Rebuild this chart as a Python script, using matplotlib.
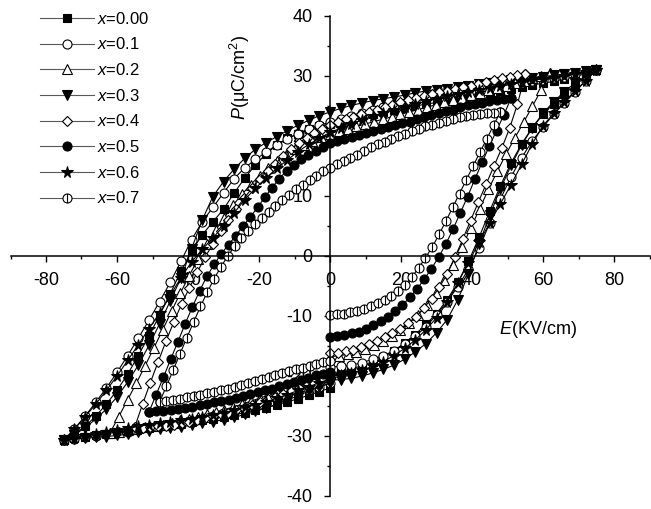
import numpy as np
import matplotlib
matplotlib.use("Agg")
import matplotlib.pyplot as plt
from matplotlib.path import Path
from matplotlib.ticker import MultipleLocator

plt.rcParams['font.family'] = ['Liberation Sans', 'DejaVu Sans']
plt.rcParams['mathtext.fontset'] = 'custom'
plt.rcParams['mathtext.rm'] = 'Liberation Sans'
plt.rcParams['mathtext.it'] = 'Liberation Sans:italic'
plt.rcParams['axes.unicode_minus'] = False

# P-E loops: each run goes 0 -> +Emax (up), +Emax -> -Emax (down), -Emax -> 0 (back)
labels = ['0.00', '0.1', '0.2', '0.3', '0.4', '0.5', '0.6', '0.7']

emax_00 = 75
p_00_up = [-19.5, -19.3, -18.8, -18.3, -17.6, -16.8, -15.8, -14.5, -13.1, -11.4, -9.6, -7.3, -4.4,
           -0.9, 3.1, 7.5, 11.7, 15.5, 18.7, 21.4, 23.6, 25.4, 27.0, 28.5, 29.8, 31.0]
p_00_down = [31.0, 30.4, 29.9, 29.5, 29.1, 28.8, 28.5, 28.2, 27.8, 27.5, 27.2, 26.9, 26.6,
             26.2, 25.9, 25.6, 25.3, 25.0, 24.6, 24.3, 24.0, 23.6, 23.2, 22.8, 22.4, 22.0,
             21.6, 21.1, 20.4, 19.6, 18.5, 17.0, 15.2, 13.0, 10.5, 7.8, 5.7, 3.5, 0.8,
             -2.5, -6.3, -9.9, -13.3, -16.6, -19.7, -22.4, -24.7, -26.7, -28.4, -29.7, -30.7]
p_00_back = [-30.7, -30.4, -30.1, -29.9, -29.6, -29.4, -29.2, -28.9, -28.7, -28.4, -28.2, -28.0, -27.7,
             -27.4, -27.1, -26.8, -26.5, -26.1, -25.7, -25.3, -24.8, -24.3, -23.8, -23.2, -22.6, -22.0]

emax_01 = 75
p_01_up = [-18.5, -18.4, -18.2, -17.8, -17.2, -16.6, -15.8, -14.7, -13.4, -11.8, -9.8, -7.6, -5.1,
           -2.2, 1.3, 5.5, 9.5, 13.2, 16.4, 19.2, 21.5, 23.6, 25.5, 27.3, 29.2, 31.0]
p_01_down = [31.0, 30.6, 30.3, 29.9, 29.6, 29.4, 29.2, 28.9, 28.6, 28.3, 28.0, 27.8, 27.5,
             27.1, 26.8, 26.5, 26.2, 25.9, 25.5, 25.2, 24.8, 24.4, 23.9, 23.4, 22.9, 22.3,
             21.8, 21.2, 20.4, 19.5, 18.5, 17.3, 16.1, 14.7, 12.9, 10.5, 8.1, 5.7, 2.7,
             -0.9, -4.4, -7.6, -10.7, -13.7, -16.6, -19.4, -22.0, -24.4, -26.7, -28.8, -30.7]
p_01_back = [-30.7, -30.5, -30.2, -30.0, -29.7, -29.5, -29.3, -29.0, -28.7, -28.4, -28.1, -27.8, -27.5,
             -27.1, -26.7, -26.3, -25.9, -25.4, -25.0, -24.5, -24.0, -23.4, -22.9, -22.3, -21.8, -21.2]

emax_02 = 62
p_02_up = [-16.8, -16.6, -16.4, -16.0, -15.5, -14.9, -14.2, -13.3, -12.3, -11.2, -9.8, -8.1, -6.2,
           -4.0, -1.5, 1.5, 4.7, 7.9, 11.1, 14.1, 17.0, 19.7, 22.3, 25.0, 27.7, 30.5]
p_02_down = [30.5, 30.0, 29.6, 29.2, 28.8, 28.4, 28.0, 27.6, 27.2, 26.8, 26.4, 26.0, 25.6,
             25.2, 24.8, 24.4, 24.0, 23.6, 23.2, 22.8, 22.4, 22.0, 21.6, 21.2, 20.8, 20.4,
             19.8, 19.2, 18.5, 17.8, 16.9, 15.9, 14.7, 13.4, 11.9, 10.3, 8.5, 6.4, 4.3,
             2.0, -0.5, -3.3, -6.2, -9.2, -12.3, -15.3, -18.3, -21.2, -24.0, -26.8, -29.5]
p_02_back = [-29.5, -29.3, -29.0, -28.8, -28.5, -28.3, -28.1, -27.8, -27.4, -27.1, -26.8, -26.4, -26.0,
             -25.6, -25.2, -24.7, -24.2, -23.7, -23.2, -22.7, -22.2, -21.6, -21.1, -20.6, -20.1, -19.6]

emax_03 = 75
p_03_up = [-20.7, -20.6, -20.4, -20.0, -19.5, -18.9, -18.2, -17.2, -16.0, -14.6, -12.8, -10.6, -7.3,
           -3.0, 2.0, 6.8, 11.2, 15.1, 18.5, 21.4, 23.8, 25.7, 27.4, 28.8, 30.0, 31.0]
p_03_down = [31.0, 30.8, 30.5, 30.3, 30.1, 29.9, 29.7, 29.5, 29.3, 29.0, 28.8, 28.6, 28.4,
             28.2, 27.9, 27.7, 27.5, 27.2, 26.8, 26.5, 26.2, 25.9, 25.5, 25.1, 24.6, 24.0,
             23.4, 22.6, 21.8, 20.9, 19.9, 18.9, 17.8, 16.3, 14.5, 12.4, 9.9, 6.0, 1.2,
             -3.7, -7.5, -11.3, -14.9, -18.2, -21.0, -23.5, -25.5, -27.2, -28.6, -29.8, -30.7]
p_03_back = [-30.7, -30.5, -30.4, -30.2, -30.1, -29.9, -29.7, -29.4, -29.2, -28.9, -28.7, -28.5, -28.2,
             -27.9, -27.6, -27.3, -26.9, -26.4, -25.9, -25.3, -24.7, -24.0, -23.3, -22.5, -21.8, -21.2]

emax_04 = 55
p_04_up = [-16.2, -16.1, -15.9, -15.6, -15.2, -14.7, -14.1, -13.5, -12.8, -12.1, -11.2, -10.1, -8.7,
           -7.1, -5.2, -3.0, -0.2, 2.8, 5.9, 9.0, 12.0, 15.0, 18.0, 21.3, 25.3, 30.3]
p_04_down = [30.3, 30.1, 29.9, 29.6, 29.3, 29.0, 28.7, 28.4, 28.1, 27.8, 27.5, 27.3, 27.0,
             26.6, 26.3, 26.0, 25.6, 25.2, 24.8, 24.4, 24.0, 23.6, 23.2, 22.8, 22.3, 21.8,
             21.2, 20.5, 19.7, 18.8, 17.8, 16.7, 15.4, 14.2, 12.8, 11.3, 9.6, 7.9, 6.0,
             4.1, 2.0, -0.2, -2.7, -5.3, -8.0, -11.0, -14.2, -17.6, -21.1, -24.7, -28.5]
p_04_back = [-28.5, -28.6, -28.5, -28.4, -28.3, -28.1, -27.9, -27.6, -27.3, -27.0, -26.7, -26.4, -26.1,
             -25.7, -25.3, -24.9, -24.4, -23.9, -23.5, -23.0, -22.5, -22.0, -21.5, -21.1, -20.7, -20.3]

emax_05 = 51
p_05_up = [-13.5, -13.4, -13.2, -12.9, -12.6, -12.1, -11.5, -10.9, -10.2, -9.2, -8.2, -6.9, -5.5,
           -3.9, -2.1, -0.2, 2.0, 4.5, 7.2, 9.9, 12.8, 15.6, 18.3, 20.9, 23.5, 26.3]
p_05_down = [26.3, 26.1, 26.0, 25.8, 25.5, 25.3, 25.1, 24.8, 24.4, 24.1, 23.8, 23.5, 23.2,
             22.8, 22.4, 22.1, 21.8, 21.5, 21.1, 20.8, 20.5, 20.2, 19.9, 19.5, 19.2, 18.8,
             18.2, 17.5, 16.8, 16.1, 15.2, 14.2, 12.9, 11.4, 9.8, 8.1, 6.5, 5.0, 3.4,
             1.9, 0.4, -1.4, -3.4, -5.8, -8.5, -11.3, -14.3, -17.2, -20.2, -23.1, -26.0]
p_05_back = [-26.0, -25.9, -25.8, -25.6, -25.5, -25.3, -25.1, -24.9, -24.7, -24.4, -24.2, -24.0, -23.7,
             -23.3, -23.0, -22.7, -22.4, -22.1, -21.7, -21.3, -21.0, -20.7, -20.3, -19.9, -19.6, -19.3]

emax_06 = 75
p_06_up = [-20.0, -19.8, -19.5, -19.0, -18.4, -17.6, -16.6, -15.4, -14.0, -12.3, -10.3, -7.7, -4.5,
           -1.1, 2.3, 5.5, 8.7, 11.9, 15.3, 18.7, 21.7, 23.8, 25.7, 27.5, 29.2, 31.0]
p_06_down = [31.0, 30.7, 30.4, 30.0, 29.7, 29.5, 29.3, 29.0, 28.6, 28.3, 28.0, 27.7, 27.4,
             27.0, 26.6, 26.2, 25.8, 25.3, 24.9, 24.4, 23.9, 23.3, 22.7, 22.0, 21.3, 20.6,
             19.6, 18.6, 17.4, 16.0, 14.6, 13.0, 11.3, 9.4, 7.2, 5.0, 3.0, 1.1, -1.0,
             -3.6, -6.6, -9.5, -12.1, -14.8, -17.4, -20.0, -22.4, -24.7, -26.8, -28.9, -30.7]
p_06_back = [-30.7, -30.3, -30.0, -29.6, -29.3, -29.0, -28.7, -28.4, -28.1, -27.8, -27.6, -27.4, -27.1,
             -26.8, -26.5, -26.1, -25.7, -25.2, -24.8, -24.3, -23.7, -23.1, -22.4, -21.8, -21.1, -20.5]

emax_07 = 48
p_07_up = [-9.8, -9.7, -9.6, -9.4, -9.1, -8.8, -8.4, -7.9, -7.3, -6.6, -5.8, -4.8, -3.5,
           -2.0, -0.3, 1.5, 3.6, 5.8, 8.1, 10.4, 12.7, 15.0, 17.3, 19.5, 21.8, 24.0]
p_07_down = [24.0, 23.9, 23.8, 23.6, 23.5, 23.3, 23.1, 22.8, 22.5, 22.2, 21.9, 21.6, 21.2,
             20.8, 20.4, 20.0, 19.5, 19.0, 18.6, 18.1, 17.5, 16.9, 16.4, 15.8, 15.3, 14.7,
             14.1, 13.4, 12.6, 11.9, 11.1, 10.2, 9.3, 8.3, 7.4, 6.4, 5.3, 4.2, 3.0,
             1.6, 0.0, -1.8, -3.8, -6.0, -8.4, -11.0, -13.6, -16.3, -19.0, -21.7, -24.3]
p_07_back = [-24.3, -24.1, -24.0, -23.8, -23.5, -23.3, -23.1, -22.8, -22.6, -22.3, -22.1, -21.8, -21.5,
             -21.1, -20.8, -20.5, -20.2, -19.9, -19.5, -19.2, -18.9, -18.6, -18.3, -18.0, -17.7, -17.5]

runs = [
    (emax_00, p_00_up, p_00_down, p_00_back),
    (emax_01, p_01_up, p_01_down, p_01_back),
    (emax_02, p_02_up, p_02_down, p_02_back),
    (emax_03, p_03_up, p_03_down, p_03_back),
    (emax_04, p_04_up, p_04_down, p_04_back),
    (emax_05, p_05_up, p_05_down, p_05_back),
    (emax_06, p_06_up, p_06_down, p_06_back),
    (emax_07, p_07_up, p_07_down, p_07_back),
]

# circle with a vertical bar for x=0.7
circ = Path.unit_circle()
bar_marker = Path(np.vstack([circ.vertices, [[0, -1], [0, 1]]]),
                  np.concatenate([circ.codes, [Path.MOVETO, Path.LINETO]]))

styles = [
    dict(marker='s', mfc='black', ms=5.5),
    dict(marker='o', mfc='white', ms=6.5),
    dict(marker='^', mfc='white', ms=6.5),
    dict(marker='v', mfc='black', ms=6.5),
    dict(marker='D', mfc='white', ms=5.3),
    dict(marker='o', mfc='black', ms=6.5),
    dict(marker='*', mfc='black', ms=8.5),
    dict(marker=bar_marker, mfc='white', ms=6.5),
]

fig = plt.figure(figsize=(6.51, 5.09), dpi=100)
ax = fig.add_axes([10.5 / 651, 13 / 509, 639 / 651, 480 / 509])

for (emax, up, down, back), st, lab in zip(runs, styles, labels):
    e = np.concatenate([np.linspace(0, emax, len(up)),
                        np.linspace(emax, -emax, len(down)),
                        np.linspace(-emax, 0, len(back))])
    p = np.concatenate([up, down, back])
    ax.plot(e, p, color='black', lw=0.8, mec='black', mew=0.8,
            label='$x$=' + lab, **st)

ax.set_xlim(-90, 90)
ax.set_ylim(-40, 40)
ax.spines['left'].set_position(('data', 0))
ax.spines['bottom'].set_position(('data', 0))
ax.spines['right'].set_visible(False)
ax.spines['top'].set_visible(False)
for s in ['left', 'bottom']:
    ax.spines[s].set_linewidth(1.1)
ax.set_axisbelow(True)

ax.xaxis.set_major_locator(MultipleLocator(20))
ax.xaxis.set_minor_locator(MultipleLocator(10))
ax.yaxis.set_major_locator(MultipleLocator(10))
ax.yaxis.set_minor_locator(MultipleLocator(5))
ax.tick_params(which='major', direction='out', length=4.5, width=1.0, labelsize=13)
ax.tick_params(which='minor', direction='out', length=2.5, width=1.0)
ax.tick_params(axis='x', pad=7)
ax.tick_params(axis='y', pad=8)

ax.text(-25.4, 29.7, '$P$(μC/cm$^2$)', rotation=90, fontsize=13,
        ha='center', va='center')
ax.text(58.6, -12.3, '$E$(KV/cm)', fontsize=13, ha='center', va='center')

leg = ax.legend(loc='upper left', bbox_to_anchor=(0.036, 1.025), frameon=False,
                fontsize=12, handlelength=3.2, handletextpad=0.2,
                labelspacing=0.58, borderaxespad=0)
for h in leg.get_lines():
    h.set_color('0.35')
    h.set_markeredgecolor('black')

fig.savefig('out.png', dpi=100)
